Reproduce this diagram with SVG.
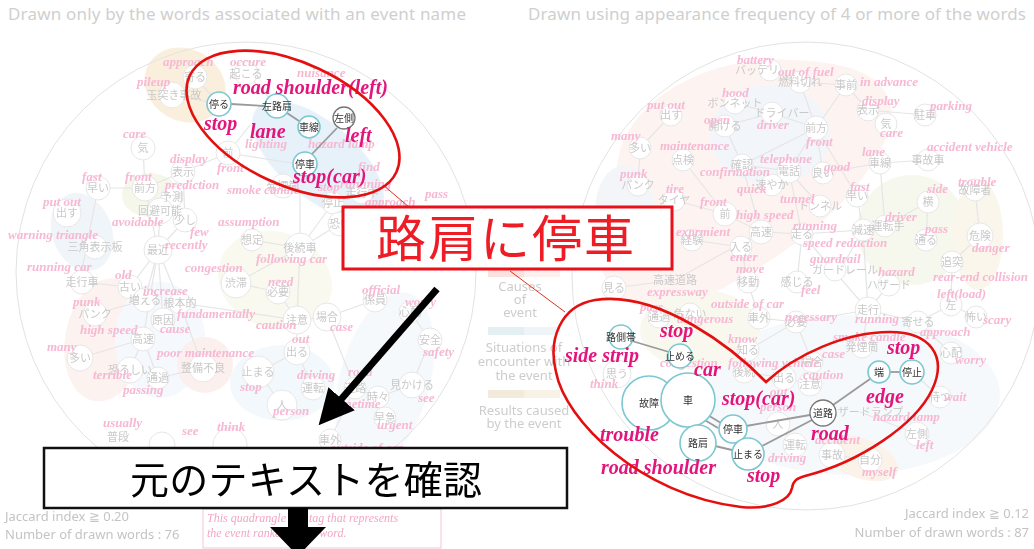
<svg xmlns="http://www.w3.org/2000/svg" width="1034" height="549" viewBox="0 0 1034 549">
<defs>
<style>
.tt{font-family:"Noto Sans","Open Sans",sans-serif;fill:#cfcfcf;font-size:17px}
.lg{font-family:"Noto Sans","Open Sans",sans-serif;fill:#cdcdcd;font-size:13px;text-anchor:middle}
.ft{font-family:"Noto Sans","Open Sans",sans-serif;fill:#c4c4c4;font-size:13px}
.p{font-family:"Liberation Serif",serif;font-style:italic;font-weight:bold;fill:#f7b8d3;font-size:13px}
.j{font-family:"Noto Sans CJK JP",sans-serif;fill:#c9c9c9;font-size:11px;text-anchor:middle}
.n{fill:#fff;stroke:#e6e6e6;stroke-width:1}
.e{stroke:#e5e5e5;stroke-width:1.2;fill:none}
.ring{fill:none;stroke:#e2e2e2;stroke-width:1}
.L{font-family:"Liberation Serif",serif;font-style:italic;font-weight:bold;fill:#e3147c;font-size:20px}
.fj{font-family:"Noto Sans CJK JP",sans-serif;fill:#333;font-size:10px;text-anchor:middle}
.fn{fill:#fff;stroke:#7cc7d1;stroke-width:1.6}
.gn{fill:#fff;stroke:#777;stroke-width:1.3}
.fe{stroke:#9a9a9a;stroke-width:1.8;fill:none}
.red{fill:none;stroke:#e40f0f;stroke-width:2.6}
</style>
<marker id="ah" viewBox="0 0 10 10" refX="2" refY="5" markerWidth="5" markerHeight="5" orient="auto" markerUnits="strokeWidth">
<path d="M0,0 L10,5 L0,10 Z" fill="#000"/>
</marker>
</defs>
<rect width="1034" height="549" fill="#fff"/>

<!-- Background (faded) network plots -->
<g id="background">
<text class="tt" x="8" y="20" textLength="458">Drawn only by the words associated with an event name</text>
<text class="tt" x="528" y="20" textLength="498">Drawn using appearance frequency of 4 or more of the words</text>

<!-- blobs left -->
<g opacity="0.45">
<ellipse cx="185" cy="85" rx="42" ry="36" fill="#f3dcb4" transform="rotate(30 185 85)"/>
<ellipse cx="318" cy="160" rx="80" ry="38" fill="#c9e0f3" transform="rotate(40 318 160)"/>
<ellipse cx="150" cy="195" rx="28" ry="22" fill="#e6ecd0"/>
<ellipse cx="82" cy="232" rx="30" ry="40" fill="#dde9f4" transform="rotate(-20 82 232)"/>
<ellipse cx="105" cy="340" rx="40" ry="62" fill="#f9e2dc" transform="rotate(10 105 340)"/>
<ellipse cx="160" cy="340" rx="45" ry="58" fill="#e8f0f8"/>
<ellipse cx="205" cy="365" rx="28" ry="28" fill="#f9ddd8"/>
<ellipse cx="275" cy="280" rx="58" ry="48" fill="#f1f2dc" transform="rotate(20 275 280)"/>
<ellipse cx="282" cy="383" rx="52" ry="38" fill="#e5eff8"/>
<ellipse cx="385" cy="380" rx="45" ry="90" fill="#e9f1f9" transform="rotate(15 385 380)"/>
</g>
<!-- blobs right -->
<g opacity="0.45">
<path d="M620 150 C640 90,720 55,790 60 C860 62,900 80,890 130 C860 200,800 250,700 300 C640 320,600 300,600 250 Z" fill="#fbe7e3"/>
<ellipse cx="770" cy="135" rx="60" ry="50" fill="#e4ecf5"/>
<ellipse cx="625" cy="210" rx="30" ry="45" fill="#e6ebf3"/>
<ellipse cx="912" cy="230" rx="55" ry="55" fill="#eef0d8"/>
<ellipse cx="978" cy="235" rx="25" ry="55" fill="#f8ecd6"/>
<ellipse cx="850" cy="395" rx="150" ry="80" fill="#ecf3f9"/>
<ellipse cx="860" cy="458" rx="40" ry="20" fill="#f8e5cf" transform="rotate(20 860 458)"/>
<ellipse cx="700" cy="330" rx="60" ry="40" fill="#f0f1da"/>
</g>

<circle class="ring" cx="246" cy="272" r="230"/>
<circle class="ring" cx="806" cy="276" r="234"/>

<!-- faded edges left -->
<g class="e">
<line x1="195" y1="77" x2="219" y2="104"/><line x1="172" y1="95" x2="219" y2="104"/><line x1="246" y1="73" x2="277" y2="106"/>
<line x1="145" y1="188" x2="98" y2="188"/><line x1="145" y1="188" x2="183" y2="172"/><line x1="145" y1="188" x2="143" y2="148"/>
<line x1="183" y1="172" x2="228" y2="153"/><line x1="228" y1="153" x2="305" y2="165"/><line x1="228" y1="153" x2="250" y2="125"/>
<line x1="98" y1="188" x2="80" y2="280"/><line x1="158" y1="250" x2="145" y2="188"/><line x1="158" y1="250" x2="160" y2="211"/>
<line x1="158" y1="250" x2="185" y2="220"/><line x1="158" y1="250" x2="130" y2="287"/><line x1="158" y1="250" x2="145" y2="300"/>
<line x1="158" y1="250" x2="180" y2="303"/><line x1="158" y1="250" x2="163" y2="320"/><line x1="158" y1="250" x2="143" y2="339"/>
<line x1="183" y1="172" x2="185" y2="220"/><line x1="82" y1="282" x2="130" y2="287"/><line x1="95" y1="314" x2="145" y2="300"/>
<line x1="143" y1="339" x2="80" y2="358"/><line x1="143" y1="339" x2="130" y2="370"/><line x1="143" y1="339" x2="158" y2="378"/>
<line x1="180" y1="303" x2="297" y2="320"/><line x1="180" y1="303" x2="203" y2="368"/><line x1="252" y1="240" x2="300" y2="248"/>
<line x1="300" y1="248" x2="236" y2="283"/><line x1="300" y1="248" x2="297" y2="320"/><line x1="300" y1="248" x2="333" y2="203"/>
<line x1="300" y1="248" x2="340" y2="224"/><line x1="305" y1="165" x2="333" y2="203"/><line x1="278" y1="292" x2="297" y2="320"/>
<line x1="297" y1="320" x2="327" y2="317"/><line x1="297" y1="320" x2="297" y2="352"/><line x1="297" y1="352" x2="258" y2="372"/>
<line x1="297" y1="352" x2="313" y2="388"/><line x1="258" y1="372" x2="282" y2="405"/><line x1="327" y1="317" x2="355" y2="388"/>
<line x1="355" y1="388" x2="378" y2="397"/><line x1="378" y1="397" x2="412" y2="385"/><line x1="412" y1="385" x2="430" y2="340"/>
<line x1="430" y1="340" x2="410" y2="312"/><line x1="378" y1="397" x2="385" y2="418"/><line x1="355" y1="388" x2="330" y2="440"/>
<line x1="327" y1="317" x2="375" y2="300"/><line x1="236" y1="283" x2="278" y2="292"/><line x1="362" y1="193" x2="333" y2="203"/>
<line x1="300" y1="248" x2="300" y2="190"/><line x1="203" y1="368" x2="158" y2="378"/>
</g>
<!-- faded edges right -->
<g class="e">
<line x1="770" y1="70" x2="800" y2="82"/><line x1="800" y1="82" x2="846" y2="85"/><line x1="800" y1="82" x2="816" y2="128"/>
<line x1="846" y1="85" x2="868" y2="110"/><line x1="846" y1="85" x2="816" y2="128"/><line x1="868" y1="110" x2="925" y2="115"/>
<line x1="868" y1="110" x2="886" y2="124"/><line x1="735" y1="103" x2="772" y2="113"/><line x1="725" y1="126" x2="772" y2="113"/>
<line x1="772" y1="113" x2="816" y2="128"/><line x1="816" y1="128" x2="789" y2="171"/><line x1="816" y1="128" x2="742" y2="165"/>
<line x1="816" y1="128" x2="823" y2="173"/><line x1="671" y1="115" x2="640" y2="148"/><line x1="640" y1="148" x2="638" y2="185"/>
<line x1="683" y1="160" x2="725" y2="214"/><line x1="742" y1="165" x2="761" y2="232"/><line x1="789" y1="171" x2="742" y2="165"/>
<line x1="789" y1="171" x2="772" y2="185"/><line x1="789" y1="171" x2="820" y2="206"/><line x1="789" y1="171" x2="802" y2="234"/>
<line x1="823" y1="173" x2="880" y2="163"/><line x1="880" y1="163" x2="928" y2="160"/><line x1="880" y1="163" x2="885" y2="226"/>
<line x1="857" y1="196" x2="863" y2="230"/><line x1="928" y1="202" x2="885" y2="226"/><line x1="928" y1="202" x2="926" y2="240"/>
<line x1="975" y1="190" x2="980" y2="236"/><line x1="980" y1="236" x2="952" y2="262"/><line x1="674" y1="200" x2="725" y2="214"/>
<line x1="725" y1="214" x2="761" y2="232"/><line x1="761" y1="232" x2="802" y2="234"/><line x1="761" y1="232" x2="741" y2="247"/>
<line x1="692" y1="240" x2="741" y2="247"/><line x1="802" y1="234" x2="863" y2="230"/><line x1="863" y1="230" x2="885" y2="226"/>
<line x1="863" y1="230" x2="840" y2="270"/><line x1="802" y1="234" x2="797" y2="282"/><line x1="741" y1="247" x2="748" y2="282"/>
<line x1="761" y1="232" x2="675" y2="280"/><line x1="868" y1="310" x2="863" y2="230"/><line x1="868" y1="310" x2="889" y2="285"/>
<line x1="868" y1="310" x2="918" y2="322"/><line x1="868" y1="310" x2="862" y2="347"/><line x1="868" y1="310" x2="796" y2="322"/>
<line x1="868" y1="310" x2="802" y2="234"/><line x1="796" y1="322" x2="759" y2="318"/><line x1="796" y1="322" x2="812" y2="362"/>
<line x1="796" y1="322" x2="748" y2="350"/><line x1="748" y1="282" x2="759" y2="318"/><line x1="690" y1="314" x2="659" y2="317"/>
<line x1="614" y1="288" x2="675" y2="280"/><line x1="918" y1="322" x2="951" y2="305"/><line x1="951" y1="305" x2="976" y2="317"/>
<line x1="952" y1="262" x2="951" y2="305"/><line x1="951" y1="353" x2="918" y2="322"/><line x1="812" y1="362" x2="810" y2="384"/>
<line x1="784" y1="378" x2="810" y2="384"/><line x1="744" y1="372" x2="784" y2="378"/><line x1="778" y1="424" x2="795" y2="445"/>
<line x1="832" y1="455" x2="870" y2="460"/><line x1="860" y1="412" x2="917" y2="434"/><line x1="940" y1="397" x2="912" y2="372"/>
<line x1="725" y1="126" x2="742" y2="165"/><line x1="816" y1="128" x2="857" y2="196"/>
</g>

<!-- faded nodes left -->
<g class="n">
<circle cx="195" cy="77" r="12"/><circle cx="246" cy="73" r="12"/><circle cx="172" cy="95" r="13"/><circle cx="143" cy="148" r="12"/>
<circle cx="228" cy="153" r="12"/><circle cx="183" cy="172" r="12"/><circle cx="98" cy="188" r="12"/><circle cx="145" cy="188" r="13"/>
<circle cx="172" cy="197" r="11"/><circle cx="67" cy="213" r="14"/><circle cx="160" cy="211" r="13"/><circle cx="185" cy="220" r="12"/>
<circle cx="252" cy="240" r="11"/><circle cx="95" cy="247" r="12"/><circle cx="158" cy="250" r="14"/><circle cx="300" cy="248" r="15"/>
<circle cx="283" cy="186" r="12"/><circle cx="333" cy="203" r="11"/><circle cx="362" cy="193" r="11"/><circle cx="340" cy="224" r="12"/>
<circle cx="82" cy="282" r="12"/><circle cx="130" cy="287" r="12"/><circle cx="236" cy="283" r="15"/><circle cx="278" cy="292" r="12"/>
<circle cx="145" cy="300" r="12"/><circle cx="180" cy="303" r="11"/><circle cx="375" cy="300" r="12"/><circle cx="410" cy="312" r="11"/>
<circle cx="95" cy="314" r="12"/><circle cx="163" cy="320" r="12"/><circle cx="297" cy="320" r="14"/><circle cx="327" cy="317" r="14"/>
<circle cx="143" cy="339" r="12"/><circle cx="430" cy="340" r="12"/><circle cx="80" cy="358" r="13"/><circle cx="297" cy="352" r="13"/>
<circle cx="203" cy="368" r="14"/><circle cx="130" cy="370" r="13"/><circle cx="258" cy="372" r="16"/><circle cx="313" cy="388" r="12"/>
<circle cx="355" cy="388" r="11"/><circle cx="158" cy="378" r="11"/><circle cx="412" cy="385" r="13"/><circle cx="378" cy="397" r="11"/>
<circle cx="282" cy="405" r="15"/><circle cx="385" cy="418" r="11"/><circle cx="162" cy="445" r="13"/><circle cx="230" cy="445" r="17"/><circle cx="330" cy="440" r="11"/>
</g>
<!-- faded nodes right -->
<g class="n">
<circle cx="770" cy="70" r="11"/><circle cx="800" cy="82" r="11"/><circle cx="846" cy="85" r="11"/><circle cx="735" cy="103" r="11"/>
<circle cx="671" cy="115" r="11"/><circle cx="868" cy="110" r="11"/><circle cx="925" cy="115" r="11"/><circle cx="725" cy="126" r="11"/>
<circle cx="772" cy="113" r="11"/><circle cx="816" cy="128" r="12"/><circle cx="886" cy="124" r="11"/><circle cx="640" cy="148" r="11"/>
<circle cx="683" cy="160" r="11"/><circle cx="880" cy="163" r="11"/><circle cx="928" cy="160" r="11"/><circle cx="742" cy="165" r="11"/>
<circle cx="789" cy="171" r="12"/><circle cx="823" cy="173" r="11"/><circle cx="638" cy="185" r="11"/><circle cx="772" cy="185" r="11"/>
<circle cx="857" cy="196" r="11"/><circle cx="975" cy="190" r="11"/><circle cx="674" cy="200" r="11"/><circle cx="928" cy="202" r="11"/>
<circle cx="820" cy="206" r="11"/><circle cx="725" cy="214" r="12"/><circle cx="885" cy="226" r="11"/><circle cx="802" cy="234" r="11"/>
<circle cx="863" cy="230" r="11"/><circle cx="926" cy="240" r="11"/><circle cx="980" cy="236" r="13"/><circle cx="692" cy="240" r="11"/>
<circle cx="761" cy="232" r="12"/><circle cx="741" cy="247" r="11"/><circle cx="835" cy="270" r="11"/><circle cx="748" cy="282" r="11"/>
<circle cx="797" cy="282" r="11"/><circle cx="889" cy="285" r="11"/><circle cx="952" cy="262" r="11"/><circle cx="614" cy="288" r="12"/>
<circle cx="951" cy="305" r="11"/><circle cx="868" cy="310" r="13"/><circle cx="976" cy="317" r="11"/><circle cx="659" cy="317" r="11"/>
<circle cx="690" cy="314" r="11"/><circle cx="759" cy="318" r="11"/><circle cx="796" cy="322" r="11"/><circle cx="918" cy="322" r="11"/>
<circle cx="748" cy="350" r="11"/><circle cx="862" cy="347" r="11"/><circle cx="951" cy="353" r="11"/><circle cx="812" cy="362" r="11"/>
<circle cx="744" cy="372" r="11"/><circle cx="617" cy="374" r="14"/><circle cx="784" cy="378" r="12"/><circle cx="810" cy="384" r="12"/>
<circle cx="940" cy="397" r="11"/><circle cx="778" cy="424" r="12"/><circle cx="917" cy="434" r="12"/><circle cx="832" cy="455" r="13"/>
<circle cx="795" cy="445" r="12"/><circle cx="870" cy="460" r="12"/>
</g>

<!-- faded japanese words left -->
<g class="j">
<text x="195" y="81">寄る</text><text x="246" y="78">起こる</text><text x="174" y="99">玉突き事故</text><text x="143" y="152">気</text>
<text x="228" y="157">前</text><text x="183" y="176">表示</text><text x="98" y="192">早い</text><text x="145" y="192">前方</text>
<text x="172" y="201">予測</text><text x="67" y="217">出す</text><text x="160" y="215">回避可能</text><text x="185" y="224">少し</text>
<text x="252" y="244">想定</text><text x="95" y="251">三角表示板</text><text x="158" y="254">最近</text><text x="300" y="252">後続車</text>
<text x="283" y="190">発煙筒</text><text x="333" y="207">停止</text><text x="362" y="197">走行中</text><text x="340" y="228">恐い</text>
<text x="82" y="286">走行車</text><text x="130" y="291">古い</text><text x="236" y="287">渋滞</text><text x="278" y="296">必要</text>
<text x="145" y="304">増える</text><text x="180" y="307">根本的</text><text x="375" y="304">係員</text><text x="410" y="316">心配</text>
<text x="95" y="318">パンク</text><text x="163" y="324">原因</text><text x="297" y="324">注意</text><text x="327" y="321">場合</text>
<text x="143" y="343">高速</text><text x="430" y="344">安全</text><text x="80" y="362">多い</text><text x="297" y="356">出る</text>
<text x="203" y="372">整備不良</text><text x="130" y="374">恐ろしい</text><text x="258" y="376">止まる</text><text x="313" y="392">運転</text>
<text x="355" y="392">道路</text><text x="158" y="382">通過</text><text x="412" y="389">見かける</text><text x="378" y="401">時々</text>
<text x="282" y="409">人</text><text x="385" y="422">早急</text><text x="118" y="441">普段</text><text x="330" y="444">車外</text>
</g>
<!-- faded japanese words right -->
<g class="j">
<text x="757" y="74">バッテリ</text><text x="800" y="86">燃料切れ</text><text x="846" y="89">事前</text><text x="735" y="107">ボンネット</text>
<text x="671" y="119">出す</text><text x="868" y="114">表示</text><text x="925" y="119">駐車</text><text x="725" y="130">開ける</text>
<text x="782" y="117">ドライバー</text><text x="816" y="132">前方</text><text x="886" y="128">気</text><text x="640" y="152">多い</text>
<text x="683" y="164">点検</text><text x="880" y="167">車線</text><text x="928" y="164">事故車</text><text x="742" y="169">確認</text>
<text x="789" y="175">電話</text><text x="823" y="177">良い</text><text x="638" y="189">パンク</text><text x="772" y="189">速やか</text>
<text x="857" y="200">早い</text><text x="975" y="194">故障者</text><text x="674" y="204">タイヤ</text><text x="928" y="206">横</text>
<text x="820" y="210">トンネル</text><text x="725" y="218">前</text><text x="888" y="230">運転手</text><text x="802" y="238">走る</text>
<text x="863" y="234">減速</text><text x="926" y="244">通る</text><text x="980" y="240">危険</text><text x="692" y="244">経験</text>
<text x="761" y="236">高速</text><text x="741" y="251">入る</text><text x="845" y="274">ガードレール</text><text x="748" y="286">移動</text>
<text x="797" y="286">感じる</text><text x="889" y="289">ハザード</text><text x="952" y="266">追突</text><text x="614" y="292">見る</text>
<text x="675" y="284">高速道路</text><text x="951" y="309">左</text><text x="868" y="314">走行</text><text x="976" y="321">怖い</text>
<text x="659" y="321">通過</text><text x="690" y="318">危ない</text><text x="759" y="322">車外</text><text x="796" y="326">必要</text>
<text x="918" y="326">寄せる</text><text x="748" y="354">知る</text><text x="862" y="351">発煙筒</text><text x="951" y="357">心配</text>
<text x="812" y="366">場合</text><text x="744" y="376">後続</text><text x="617" y="378">思う</text><text x="784" y="382">出る</text>
<text x="810" y="388">注意</text><text x="940" y="401">待つ</text><text x="778" y="428">人</text><text x="865" y="416">ハザードランプ</text>
<text x="917" y="438">左側</text><text x="832" y="459">事故</text><text x="795" y="449">運転</text><text x="870" y="464">自分</text>
</g>

<!-- faded english words left -->
<g class="p">
<text x="163" y="66">approach</text><text x="230" y="66">occure</text><text x="137" y="86">pileup</text><text x="297" y="77">nuisance</text>
<text x="123" y="138">care</text><text x="245" y="148">lighting</text><text x="308" y="148">hazard lamp</text><text x="170" y="163">display</text>
<text x="217" y="172">front</text><text x="82" y="181">fast</text><text x="125" y="181">front</text><text x="165" y="189">prediction</text>
<text x="227" y="194">smoke candle</text><text x="358" y="171">find</text><text x="340" y="188">runnning</text><text x="425" y="198">pass</text>
<text x="318" y="191">stop</text><text x="365" y="206">approach</text><text x="43" y="206">put out</text><text x="112" y="226">avoidable</text>
<text x="190" y="236">few</text><text x="218" y="226">assumption</text><text x="8" y="239">warning triangle</text><text x="165" y="249">recently</text>
<text x="256" y="263">following car</text><text x="345" y="237">feel</text><text x="27" y="271">running car</text><text x="115" y="279">old</text>
<text x="185" y="272">congestion</text><text x="268" y="286">need</text><text x="143" y="295">increase</text><text x="362" y="294">official</text>
<text x="405" y="306">worry</text><text x="73" y="306">punk</text><text x="177" y="318">fundamentally</text><text x="256" y="329">caution</text>
<text x="330" y="331">case</text><text x="80" y="334">high speed</text><text x="160" y="333">cause</text><text x="423" y="356">safety</text>
<text x="47" y="351">many</text><text x="292" y="343">out</text><text x="157" y="357">poor maintenance</text><text x="93" y="379">terrible</text>
<text x="240" y="391">stop</text><text x="297" y="379">driving</text><text x="348" y="376">road</text><text x="123" y="394">passing</text>
<text x="418" y="402">see</text><text x="273" y="415">person</text><text x="330" y="408">sometime</text><text x="377" y="429">urgent</text>
<text x="103" y="427">usually</text><text x="182" y="435">see</text><text x="217" y="431">think</text><text x="330" y="452">outside of car</text>
</g>
<!-- faded english words right -->
<g class="p">
<text x="737" y="64">battery</text><text x="778" y="76">out of fuel</text><text x="860" y="86">in advance</text><text x="722" y="97">hood</text>
<text x="647" y="109">put out</text><text x="862" y="105">display</text><text x="930" y="110">parking</text><text x="704" y="124">open</text>
<text x="757" y="129">driver</text><text x="806" y="146">front</text><text x="880" y="137">care</text><text x="611" y="140">many</text>
<text x="660" y="150">maintenance</text><text x="862" y="156">lane</text><text x="927" y="151">accident vehicle</text><text x="760" y="163">telephone</text>
<text x="700" y="176">confirmation</text><text x="824" y="171">good</text><text x="620" y="178">punk</text><text x="737" y="193">quick</text>
<text x="850" y="191">fast</text><text x="958" y="186">trouble</text><text x="666" y="193">tire</text><text x="927" y="193">side</text>
<text x="780" y="203">tunnel</text><text x="700" y="206">front</text><text x="885" y="221">driver</text><text x="736" y="219">high speed</text>
<text x="793" y="230">running</text><text x="925" y="233">pass</text><text x="972" y="252">danger</text><text x="676" y="236">exprmient</text>
<text x="803" y="247">speed reduction</text><text x="730" y="261">enter</text><text x="810" y="263">guardrail</text><text x="736" y="273">move</text>
<text x="801" y="294">feel</text><text x="878" y="276">hazard</text><text x="933" y="281">rear-end collision</text><text x="647" y="296">expressway</text>
<text x="937" y="298">left(load)</text><text x="711" y="308">outside of car</text><text x="983" y="324">scary</text><text x="640" y="311">pass</text>
<text x="677" y="323">dangerous</text><text x="785" y="321">necessary</text><text x="855" y="323">running</text><text x="920" y="336">approach</text>
<text x="833" y="341">smoke candle</text><text x="728" y="343">know</text><text x="955" y="364">worry</text><text x="822" y="358">case</text>
<text x="660" y="367">congestion</text><text x="728" y="367">following vehicle</text><text x="590" y="388">think</text><text x="803" y="379">caution</text>
<text x="770" y="396">out</text><text x="944" y="401">wait</text><text x="760" y="411">person</text><text x="873" y="421">hazard lamp</text>
<text x="916" y="449">left</text><text x="815" y="444">accident</text><text x="768" y="462">driving</text><text x="862" y="476">myself</text>
</g>

<!-- legend -->
<rect x="488" y="268" width="36" height="9" fill="#fbe2de"/><rect x="524" y="268" width="36" height="9" fill="#fdf0ee"/>
<text class="lg" x="520" y="291">Causes</text><text class="lg" x="520" y="304">of</text><text class="lg" x="520" y="317">event</text>
<rect x="488" y="327" width="36" height="8" fill="#e3eff2"/><rect x="524" y="327" width="36" height="8" fill="#eef4f8"/>
<text class="lg" x="524" y="352">Situations of</text><text class="lg" x="524" y="366">encounter with</text><text class="lg" x="524" y="380">the event</text>
<rect x="488" y="390" width="36" height="8" fill="#f2ebdb"/><rect x="524" y="390" width="36" height="8" fill="#f8f2e6"/>
<text class="lg" x="524" y="415">Results caused</text><text class="lg" x="524" y="428">by the event</text>
<text class="lg" x="548" y="475">ame</text><text class="lg" x="548" y="489">rds</text>

<text class="ft" x="5" y="521">Jaccard index ≧ 0.20</text>
<text class="ft" x="5" y="539">Number of drawn words : 76</text>
<text class="ft" x="1029" y="518" text-anchor="end">Jaccard index ≧ 0.12</text>
<text class="ft" x="1029" y="537" text-anchor="end">Number of drawn words : 87</text>

<rect x="203" y="509" width="238" height="39" fill="#fff" stroke="#f7c3d6" stroke-width="1"/>
<text x="207" y="522" font-family="Liberation Serif, serif" font-style="italic" font-size="12" fill="#f3a6c6">This quadrangle is a tag that represents</text>
<text x="207" y="537" font-family="Liberation Serif, serif" font-style="italic" font-size="12" fill="#f3a6c6">the event ranked in the word.</text>
</g>

<!-- Connectors (foreground) -->
<g id="connectors">
<line class="fe" x1="231" y1="104" x2="265" y2="106"/>
<line class="fe" x1="287" y1="113" x2="299" y2="121"/>
<line class="fe" x1="337" y1="128" x2="312" y2="154"/>
<line class="fe" x1="632" y1="341" x2="669" y2="352"/>
<line class="fe" x1="706" y1="414" x2="721" y2="423"/>
<line class="fe" x1="703" y1="419" x2="718" y2="428"/>
<line class="fe" x1="746" y1="426" x2="810" y2="415"/>
<line class="fe" x1="762" y1="446" x2="812" y2="420"/>
<line class="fe" x1="715" y1="446" x2="732" y2="450"/>
<line class="fe" x1="870" y1="379" x2="833" y2="405"/>
<line class="fe" x1="890" y1="372" x2="900" y2="372"/>
<line x1="383" y1="185" x2="409" y2="207" stroke="#e0301c" stroke-width="1"/>
<line x1="510" y1="271" x2="565" y2="312" stroke="#e0301c" stroke-width="1"/>
</g>

<!-- Foreground nodes, left -->
<g id="node-tomaru-l"><circle class="fn" cx="219" cy="104" r="12"/><text class="fj" x="219" y="108">停る</text></g>
<g id="node-hidariroken"><circle class="fn" cx="277" cy="106" r="12"/><text class="fj" x="277" y="110">左路肩</text></g>
<g id="node-shasen"><circle class="fn" cx="309" cy="127" r="11"/><text class="fj" x="309" y="131">車線</text></g>
<g id="node-hidarigawa"><circle class="gn" cx="344" cy="118" r="11"/><text class="fj" x="344" y="122">左側</text></g>
<g id="node-teisha-l"><circle class="fn" cx="305" cy="164" r="12"/><text class="fj" x="305" y="168">停車</text></g>

<!-- Foreground nodes, right -->
<g id="node-rosokutai"><circle class="fn" cx="621" cy="337" r="12"/><text class="fj" x="621" y="341">路側帯</text></g>
<g id="node-tomeru"><circle class="fn" cx="680" cy="356" r="12"/><text class="fj" x="680" y="360">止める</text></g>
<g id="node-kosho"><circle class="fn" cx="649" cy="403" r="27"/><text class="fj" x="649" y="407">故障</text></g>
<g id="node-kuruma"><circle class="fn" cx="688" cy="400" r="27"/><text class="fj" x="688" y="404">車</text></g>
<g id="node-roken"><circle class="fn" cx="698" cy="443" r="18"/><text class="fj" x="698" y="447">路肩</text></g>
<g id="node-teisha-r"><circle class="fn" cx="733" cy="429" r="14"/><text class="fj" x="733" y="433">停車</text></g>
<g id="node-tomaru-r"><circle class="fn" cx="748" cy="454" r="16"/><text class="fj" x="748" y="458">止まる</text></g>
<g id="node-doro"><circle class="gn" cx="823" cy="413" r="13"/><text class="fj" x="823" y="417">道路</text></g>
<g id="node-hashi"><circle class="fn" cx="879" cy="372" r="11"/><text class="fj" x="879" y="376">端</text></g>
<g id="node-teishi"><circle class="fn" cx="912" cy="372" r="12"/><text class="fj" x="912" y="376">停止</text></g>

<!-- Foreground labels -->
<g id="labels">
<text class="L" x="233" y="94">road shoulder(left)</text>
<text class="L" x="204" y="130">stop</text>
<text class="L" x="250" y="138">lane</text>
<text class="L" x="345" y="142">left</text>
<text class="L" x="293" y="183">stop(car)</text>
<text class="L" x="660" y="337">stop</text>
<text class="L" x="565" y="362">side strip</text>
<text class="L" x="694" y="376">car</text>
<text class="L" x="722" y="405">stop(car)</text>
<text class="L" x="887" y="354">stop</text>
<text class="L" x="866" y="403">edge</text>
<text class="L" x="811" y="440">road</text>
<text class="L" x="600" y="441">trouble</text>
<text class="L" x="601" y="474">road shoulder</text>
<text class="L" x="747" y="482">stop</text>
</g>

<!-- Red highlight shapes -->
<g id="highlight-left"><ellipse class="red" cx="293" cy="124" rx="114" ry="61" transform="rotate(25 293 124)"/></g>
<g id="highlight-right"><path class="red" d="M766 382 C735 350,660 290,595 300 C560 306,548 340,556 372 C565 420,640 495,741 507 C770 510,790 500,792 488 C793 481,797 478,805 476 C860 462,915 425,932 390 C948 356,930 332,890 332 C845 332,795 355,766 382 Z"/></g>

<!-- Callout box -->
<g id="callout">
<rect x="343" y="207" width="329" height="62" fill="#fff" stroke="#e8101a" stroke-width="3"/>
<text x="505" y="257" font-family="Noto Sans CJK JP, sans-serif" font-size="50" fill="#ee1c24" text-anchor="middle" textLength="258">路肩に停車</text>
</g>

<!-- Diagonal arrow -->
<g id="arrow-diag">
<line x1="437" y1="289" x2="337" y2="404" stroke="#000" stroke-width="7" marker-end="url(#ah)"/>
</g>

<!-- Box: check original text -->
<g id="check-box">
<rect x="44" y="448" width="523" height="60" fill="#fff" stroke="#111" stroke-width="2.5"/>
<text x="306" y="494" font-family="Noto Sans CJK JP, sans-serif" font-size="39" fill="#000" text-anchor="middle" textLength="352">元のテキストを確認</text>
</g>

<!-- Down arrow -->
<g id="arrow-down">
<rect x="288" y="508" width="20" height="19" fill="#000"/>
<polygon points="270,527 326,527 298,556" fill="#000"/>
</g>
</svg>
